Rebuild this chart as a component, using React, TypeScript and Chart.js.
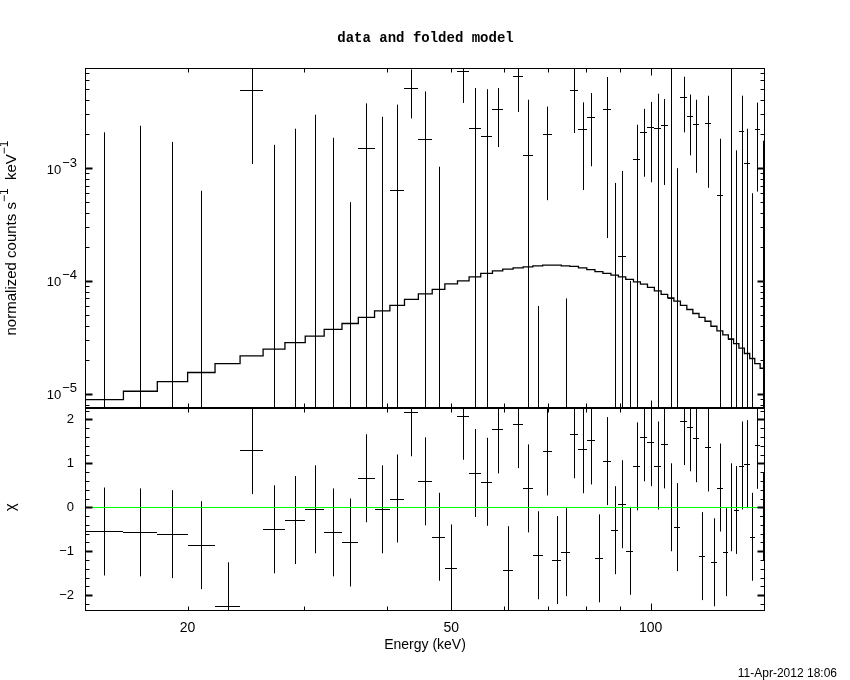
import React, { useEffect, useRef } from 'react';
import { Chart, registerables } from 'chart.js';

Chart.register(...registerables);

// ---------- data ----------
// energy bin edges (keV)
const binEdges = [
  14.0, 16.0, 18.0, 20.0, 22.0, 24.0, 26.0, 28.05, 30.1, 32.15,
  34.2, 36.2, 38.3, 40.4, 42.5, 44.6, 46.8, 48.9, 51.1, 53.2,
  55.4, 57.7, 59.8, 62.0, 64.2, 66.4, 68.7, 71.0, 73.3, 75.5,
  77.8, 80.1, 82.4, 84.7, 87.1, 89.4, 91.7, 94.2, 96.5, 98.9,
  101.3, 103.7, 106.1, 108.4, 110.9, 113.4, 115.8, 118.3, 120.8, 123.3,
  125.9, 128.5, 131.0, 133.4, 135.9, 138.5, 141.1, 143.6, 146.3, 148.8,
];

// folded model (counts s^-1 keV^-1), one per bin
const modelCounts = [
  8.85e-6, 1.05e-5, 1.28e-5, 1.54e-5, 1.85e-5, 2.16e-5, 2.48e-5, 2.84e-5, 3.24e-5, 3.71e-5,
  4.19e-5, 4.74e-5, 5.43e-5, 6.06e-5, 6.85e-5, 7.67e-5, 8.40e-5, 9.42e-5, 1.00e-4, 1.087e-4,
  1.166e-4, 1.23e-4, 1.273e-4, 1.307e-4, 1.334e-4, 1.362e-4, 1.382e-4, 1.382e-4, 1.362e-4, 1.345e-4,
  1.307e-4, 1.26e-4, 1.21e-4, 1.166e-4, 1.126e-4, 1.087e-4, 1.031e-4, 9.82e-5, 9.36e-5, 8.75e-5,
  8.17e-5, 7.59e-5, 7.08e-5, 6.61e-5, 6.06e-5, 5.58e-5, 5.14e-5, 4.74e-5, 4.39e-5, 3.96e-5,
  3.60e-5, 3.32e-5, 3.06e-5, 2.78e-5, 2.53e-5, 2.27e-5, 2.05e-5, 1.85e-5, 1.68e-5,
];

// measured data (counts s^-1 keV^-1), one per bin
const dataCounts = [
  -2.52e-3, -3.13e-3, -2.64e-3, -3.75e-3, -6.73e-3, 4.97e-3, -1.56e-3, -8.7e-4, -1.1e-4, -2.38e-3,
  -1.8e-3, 1.51e-3, -8e-5, 6.41e-4, 5.14e-3, 1.81e-3, -1.84e-3, -3.38e-3, 7.33e-3, 2.27e-3,
  1.92e-3, 3.34e-3, -3.45e-3, 6.61e-3, 1.31e-3, -8.2e-4, 2.02e-3, -2.86e-3, -3.03e-3, 4.97e-3,
  2.24e-3, 2.84e-3, -2.2e-3, 3.34e-3, -5.6e-4, 1.65e-4, -1.9e-3, 1.2e-3, 2.10e-3, 2.31e-3,
  2.27e-3, 2.41e-3, 7.1e-5, -6.9e-4, 4.28e-3, 2.90e-3, 2.48e-3, -2.17e-3, 2.53e-3, -2.46e-3,
  5.75e-4, -2.0e-3, 3.06e-5, -6e-5, 2.15e-3, 1.11e-3, -1.22e-3, 2.22e-3, -4.2e-4,
];

// 1-sigma errors of the data
const dataErrors = [
  4.60e-3, 5.51e-3, 4.35e-3, 4.38e-3, 3.0e-3, 3.88e-3, 3.17e-3, 3.11e-3, 3.09e-3, 4.24e-3,
  2.3e-3, 2.25e-3, 2.94e-3, 3.02e-3, 2.38e-3, 2.99e-3, 2.87e-3, 2.5e-3, 3.54e-3, 2.87e-3,
  3.1e-3, 1.8e-3, 2.5e-3, 3.46e-3, 2.74e-3, 8.8e-4, 1.5e-3, 2.5e-3, 3.1e-3, 2.92e-3,
  1.6e-3, 1.8e-3, 2.0e-3, 3.1e-3, 1.30e-3, 7.8e-4, 2.0e-3, 1.23e-3, 1.26e-3, 1.56e-3,
  2.31e-3, 1.7e-3, 8.5e-3, 1.69e-3, 2.2e-3, 1.6e-3, 1.57e-3, 2.0e-3, 1.86e-3, 2.0e-3,
  1.25e-3, 2.0e-3, 8.5e-3, 1.5e-3, 2.25e-3, 1.13e-3, 1.82e-3, 1.6e-3, 2.17e-3,
];

// residuals (chi), one per bin
const chiValues = [
  -0.55, -0.57, -0.61, -0.86, -2.25, 1.30, -0.50, -0.29, -0.045, -0.57,
  -0.80, 0.66, -0.045, 0.20, 2.16, 0.59, -0.67, -1.39, 2.08, 0.78,
  0.58, 1.77, -1.43, 1.89, 0.43, -1.09, 1.27, -1.20, -1.02, 1.66,
  1.32, 1.52, -1.16, 1.05, -0.52, 0.07, -0.99, 0.93, 1.59, 1.48,
  0.95, 1.43, 0.0, -0.45, 1.96, 1.82, 1.57, -1.11, 1.36, -1.25,
  0.45, -1.02, 0.0, -0.06, 0.95, 0.98, -0.67, 1.42, -0.2,
];
const chiHalfError = 1.0;

// axis ranges and ticks
const xRange = [14.0, 148.8];
const yDataRange = [7.46e-6, 7.74e-3];
const yResRange = [-2.357, 2.257];
const xTickLabels = [20, 50, 100];
const xTickMarks = [20, 30, 40, 50, 60, 70, 80, 90, 100];
const yDataDecades = [1e-5, 1e-4, 1e-3];
const yDataExponents = ['\u22125', '\u22124', '\u22123'];
const yResTicks = [-2, -1, 0, 1, 2];

const titleText = 'data and folded model';
const xTitle = 'Energy (keV)';
const dateText = '11-Apr-2012 18:06';

const SANS = '"Liberation Sans", Arial, sans-serif';

// ---------- drawing helpers ----------
const snap = (v: number) => Math.round(v) + 0.5;
function seg(ctx: CanvasRenderingContext2D, x1: number, y1: number, x2: number, y2: number) {
  ctx.beginPath();
  ctx.moveTo(x1, y1);
  ctx.lineTo(x2, y2);
  ctx.stroke();
}

const xspecPlugin = {
  id: 'xspecDecor',
  beforeDatasetsDraw(chart: any) {
    const ctx: CanvasRenderingContext2D = chart.ctx;
    const x = chart.scales.x;
    const yD = chart.scales.yData;
    const yR = chart.scales.yRes;
    ctx.save();
    ctx.strokeStyle = '#000';
    ctx.lineWidth = 1;

    // upper panel: data with error bars
    ctx.save();
    ctx.beginPath();
    ctx.rect(x.left, yD.top, x.right - x.left, yD.bottom - yD.top);
    ctx.clip();
    for (let i = 0; i < dataCounts.length; i++) {
      const lo = binEdges[i];
      const hi = binEdges[i + 1];
      const c = Math.sqrt(lo * hi);
      const px = snap(x.getPixelForValue(c));
      const v = dataCounts[i];
      const e = dataErrors[i];
      const top = v + e;
      const bot = v - e;
      if (top > 0) {
        const pt = yD.getPixelForValue(top);
        const pb = bot > 0 ? yD.getPixelForValue(bot) : yD.bottom + 5;
        seg(ctx, px, pt, px, pb);
      }
      if (v > 0) {
        const py = snap(yD.getPixelForValue(v));
        seg(ctx, Math.round(x.getPixelForValue(lo)), py, Math.round(x.getPixelForValue(hi)), py);
      }
    }
    ctx.restore();

    // lower panel: residuals
    ctx.save();
    ctx.beginPath();
    ctx.rect(x.left, yR.top, x.right - x.left, yR.bottom - yR.top);
    ctx.clip();
    for (let i = 0; i < chiValues.length; i++) {
      const lo = binEdges[i];
      const hi = binEdges[i + 1];
      const c = Math.sqrt(lo * hi);
      const px = snap(x.getPixelForValue(c));
      const v = chiValues[i];
      seg(ctx, px, yR.getPixelForValue(v + chiHalfError), px, yR.getPixelForValue(v - chiHalfError));
      const py = snap(yR.getPixelForValue(v));
      seg(ctx, Math.round(x.getPixelForValue(lo)), py, Math.round(x.getPixelForValue(hi)), py);
    }
    ctx.restore();
    ctx.restore();
  },
  afterDatasetsDraw(chart: any) {
    // zero line of the residual panel, drawn on top of the residual crosses
    const ctx: CanvasRenderingContext2D = chart.ctx;
    const x = chart.scales.x;
    const yR = chart.scales.yRes;
    ctx.save();
    ctx.strokeStyle = '#00ff00';
    ctx.lineWidth = 1;
    const py = snap(yR.getPixelForValue(0));
    seg(ctx, x.getPixelForValue(xRange[0]), py, x.getPixelForValue(xRange[1]), py);
    ctx.restore();
  },
  afterDraw(chart: any) {
    const ctx: CanvasRenderingContext2D = chart.ctx;
    const x = chart.scales.x;
    const yD = chart.scales.yData;
    const yR = chart.scales.yRes;
    ctx.save();
    ctx.strokeStyle = '#000';
    ctx.fillStyle = '#000';
    ctx.lineWidth = 1;

    const L = snap(x.left);
    const R = snap(x.right) - 1;
    const panels = [
      { t: snap(yD.top), b: snap(yD.bottom) - 1 },
      { t: snap(yR.top), b: snap(yR.bottom) - 1 },
    ];
    // frames
    for (const p of panels) {
      ctx.strokeRect(L, p.t, R - L, p.b - p.t);
    }
    // x ticks (inside, top and bottom of each panel)
    for (const p of panels) {
      for (const v of xTickMarks) {
        const px = snap(x.getPixelForValue(v));
        const len = v === 100 ? 7 : 4;
        seg(ctx, px, p.t, px, p.t + len);
        seg(ctx, px, p.b, px, p.b - len);
      }
    }
    // y ticks, upper (log)
    for (let n = -6; n <= -2; n++) {
      for (let k = 1; k <= 9; k++) {
        const v = k * Math.pow(10, n);
        if (v < yDataRange[0] || v > yDataRange[1]) continue;
        const py = snap(yD.getPixelForValue(v));
        const len = k === 1 ? 7 : 4;
        ctx.lineWidth = k === 1 ? 2 : 1;
        seg(ctx, L, py, L + len, py);
        seg(ctx, R, py, R - len, py);
      }
    }
    // y ticks, lower (linear)
    for (let j = -12; j <= 12; j++) {
      const v = j * 0.2;
      if (v < yResRange[0] || v > yResRange[1]) continue;
      const major = j % 5 === 0;
      const py = snap(yR.getPixelForValue(v));
      const len = major ? 7 : 4;
      ctx.lineWidth = major ? 2 : 1;
      seg(ctx, L, py, L + len, py);
      seg(ctx, R, py, R - len, py);
    }
    ctx.lineWidth = 1;

    // upper y tick labels 10^n
    ctx.textAlign = 'right';
    ctx.textBaseline = 'middle';
    yDataDecades.forEach((d, i) => {
      const py = yD.getPixelForValue(d);
      ctx.font = `13px ${SANS}`;
      const ew = ctx.measureText(yDataExponents[i]).width;
      ctx.fillText(yDataExponents[i], 77, py - 5);
      ctx.fillText('10', 77 - ew - 1, py + 2);
    });

    // title
    ctx.textAlign = 'center';
    ctx.textBaseline = 'middle';
    ctx.font = 'bold 14px "Liberation Mono", monospace';
    ctx.fillText(titleText, 425.5, 38);

    // y titles (rotated)
    const parts = [
      { t: 'normalized counts s', sup: false },
      { t: '\u22121', sup: true },
      { t: '  keV', sup: false },
      { t: '\u22121', sup: true },
    ];
    const mainFont = `15px ${SANS}`;
    const supFont = `12px ${SANS}`;
    let total = 0;
    const widths = parts.map((p) => {
      ctx.font = p.sup ? supFont : mainFont;
      const w = ctx.measureText(p.t).width;
      total += w;
      return w;
    });
    ctx.save();
    ctx.translate(12, (yD.top + yD.bottom) / 2);
    ctx.rotate(-Math.PI / 2);
    ctx.textAlign = 'left';
    ctx.textBaseline = 'middle';
    let cx = -total / 2;
    parts.forEach((p, i) => {
      ctx.font = p.sup ? supFont : mainFont;
      ctx.fillText(p.t, cx, p.sup ? -7 : 0);
      cx += widths[i];
    });
    ctx.restore();

    ctx.save();
    ctx.translate(11, yR.getPixelForValue(0));
    ctx.rotate(-Math.PI / 2);
    ctx.textAlign = 'center';
    ctx.textBaseline = 'middle';
    ctx.font = `15px ${SANS}`;
    ctx.fillText('\u03c7', 0, 0);
    ctx.restore();

    // date stamp
    ctx.textAlign = 'right';
    ctx.textBaseline = 'middle';
    ctx.font = `12px ${SANS}`;
    ctx.fillText(dateText, 837, 674);
    ctx.restore();
  },
};

export default function App() {
  const ref = useRef<HTMLCanvasElement | null>(null);

  useEffect(() => {
    if (!ref.current) return;
    const modelPts = binEdges.slice(0, -1).map((e, i) => ({ x: e, y: modelCounts[i] }));
    modelPts.push({ x: binEdges[binEdges.length - 1], y: modelCounts[modelCounts.length - 1] });

    const chart = new Chart(ref.current, {
      type: 'scatter',
      data: {
        datasets: [
          {
            label: 'model',
            data: modelPts,
            xAxisID: 'x',
            yAxisID: 'yData',
            showLine: true,
            stepped: 'before',
            borderColor: '#000000',
            borderWidth: 1.3,
            pointRadius: 0,
          },
        ],
      } as any,
      options: {
        animation: false,
        responsive: false,
        events: [],
        layout: { padding: { top: 68, right: 85, left: 0, bottom: 0 } },
        plugins: {
          legend: { display: false },
          tooltip: { enabled: false },
          title: { display: false },
        },
        scales: {
          x: {
            type: 'logarithmic',
            axis: 'x',
            position: 'bottom',
            min: xRange[0],
            max: xRange[1],
            bounds: 'data',
            grid: { display: false, drawTicks: false },
            border: { display: false },
            ticks: {
              autoSkip: false,
              maxRotation: 0,
              padding: 9,
              color: '#000',
              font: { family: SANS, size: 14 },
              callback: (v: any) => String(v),
            },
            title: {
              display: true,
              text: xTitle,
              color: '#000',
              font: { family: SANS, size: 14 },
              padding: { top: 0, bottom: 26 },
            },
            afterBuildTicks: (s: any) => {
              s.ticks = xTickLabels.map((v) => ({ value: v }));
            },
            afterFit: (s: any) => {
              s.height = 69;
            },
          },
          yRes: {
            type: 'linear',
            axis: 'y',
            position: 'left',
            stack: 'panels',
            stackWeight: 203,
            min: yResRange[0],
            max: yResRange[1],
            bounds: 'data',
            grid: { display: false, drawTicks: false },
            border: { display: false },
            ticks: {
              autoSkip: false,
              padding: 11,
              color: '#000',
              font: { family: SANS, size: 13 },
              callback: (v: any) => (v < 0 ? '\u2212' + Math.abs(v) : String(v)),
            },
            afterBuildTicks: (s: any) => {
              s.ticks = yResTicks.map((v) => ({ value: v }));
            },
            afterFit: (s: any) => {
              s.width = 85;
            },
          },
          yData: {
            type: 'logarithmic',
            axis: 'y',
            position: 'left',
            stack: 'panels',
            stackWeight: 340,
            min: yDataRange[0],
            max: yDataRange[1],
            bounds: 'data',
            grid: { display: false, drawTicks: false },
            border: { display: false },
            ticks: { display: false },
            afterFit: (s: any) => {
              s.width = 85;
            },
          },
        },
      } as any,
      plugins: [xspecPlugin],
    });
    return () => chart.destroy();
  }, []);

  return (
    <div style={{ position: 'absolute', left: 0, top: 0, width: 850, height: 680, background: '#fff' }}>
      <canvas ref={ref} width={850} height={680} style={{ display: 'block', width: 850, height: 680 }} />
    </div>
  );
}
